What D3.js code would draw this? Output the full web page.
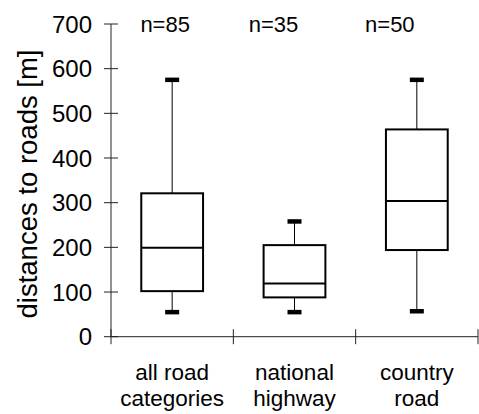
<!DOCTYPE html>
<html>
<head>
<meta charset="utf-8">
<script src="https://cdn.jsdelivr.net/npm/d3@7"></script>
<style>
  html, body { margin: 0; padding: 0; background: #fff; }
  svg { display: block; font-family: "Liberation Sans", Arial, sans-serif; }
</style>
</head>
<body>
<svg id="chart" width="479" height="414"></svg>
<script>
// Road categories and their distance summaries (metres)
const categories = ["all road categories", "national highway", "country road"];
const categoryLines = [["all road", "categories"], ["national", "highway"], ["country", "road"]];
const sampleSizes = [85, 35, 50];
const whiskerLow = [55, 55, 57];
const quartile1 = [102, 88, 194];
const medians = [199, 119, 304];
const quartile3 = [321, 205, 464];
const whiskerHigh = [575, 258, 575];
const yTicks = [0, 100, 200, 300, 400, 500, 600, 700];

const svg = d3.select("#chart");
const plotLeft = 111, plotRight = 478, plotTop = 24, plotBottom = 336.7;

const x = d3.scaleBand().domain(categories).range([plotLeft, plotRight]).paddingInner(0).paddingOuter(0);
const y = d3.scaleLinear().domain([0, 700]).range([plotBottom, plotTop]);

// Y axis: line, ticks that cross it, labels
const yAxis = svg.append("g");
yAxis.append("line")
  .attr("x1", plotLeft).attr("x2", plotLeft).attr("y1", y(700)).attr("y2", y(0))
  .attr("stroke", "#222").attr("stroke-width", 1);
yAxis.selectAll("line.tick").data(yTicks).join("line")
  .attr("class", "tick")
  .attr("x1", plotLeft - 7).attr("x2", plotLeft + 7)
  .attr("y1", d => y(d)).attr("y2", d => y(d))
  .attr("stroke", "#222").attr("stroke-width", 1);
yAxis.selectAll("text").data(yTicks).join("text")
  .attr("x", 92).attr("y", d => y(d))
  .attr("text-anchor", "end").attr("dominant-baseline", "central")
  .attr("font-size", 24).attr("fill", "#000")
  .text(d => d);

// Y axis title
svg.append("text")
  .attr("transform", `translate(36.5,184) rotate(-90)`)
  .attr("text-anchor", "middle")
  .attr("font-size", 27.5).attr("fill", "#000")
  .text("distances to roads [m]");

// X axis: line with tick marks at band edges
const xEdges = categories.map(c => x(c)).concat([plotRight]);
svg.append("line")
  .attr("x1", plotLeft).attr("x2", plotRight).attr("y1", y(0)).attr("y2", y(0))
  .attr("stroke", "#222").attr("stroke-width", 1);
svg.selectAll("line.xtick").data(xEdges).join("line")
  .attr("class", "xtick")
  .attr("x1", d => d).attr("x2", d => d)
  .attr("y1", y(0) - 7.5).attr("y2", y(0) + 7.5)
  .attr("stroke", "#222").attr("stroke-width", 1);

// Category labels (two lines each)
const catLabels = svg.selectAll("text.cat").data(categories).join("text")
  .attr("class", "cat")
  .attr("text-anchor", "middle")
  .attr("font-size", 22.5).attr("fill", "#000");
catLabels.each(function(c, i) {
  const t = d3.select(this);
  const cx = x(c) + x.bandwidth() / 2;
  categoryLines[i].forEach((line, j) => {
    t.append("tspan").attr("x", cx).attr("y", 380 + j * 26).text(line);
  });
});

// Box plots
const rows = categories.map((c, i) => ({
  c, lo: whiskerLow[i], q1: quartile1[i], med: medians[i], q3: quartile3[i], hi: whiskerHigh[i]
}));
const boxW = x.bandwidth() * 0.505;
const capW = 14;
const boxes = svg.selectAll("g.box").data(rows).join("g").attr("class", "box")
  .attr("transform", d => `translate(${x(d.c) + x.bandwidth() / 2},0)`);

boxes.append("line")
  .attr("x1", 0).attr("x2", 0).attr("y1", d => y(d.hi)).attr("y2", d => y(d.q3))
  .attr("stroke", "#000").attr("stroke-width", 1);
boxes.append("line")
  .attr("x1", 0).attr("x2", 0).attr("y1", d => y(d.q1)).attr("y2", d => y(d.lo))
  .attr("stroke", "#000").attr("stroke-width", 1);
boxes.append("line")
  .attr("x1", -capW / 2).attr("x2", capW / 2).attr("y1", d => y(d.hi)).attr("y2", d => y(d.hi))
  .attr("stroke", "#000").attr("stroke-width", 4.5);
boxes.append("line")
  .attr("x1", -capW / 2).attr("x2", capW / 2).attr("y1", d => y(d.lo)).attr("y2", d => y(d.lo))
  .attr("stroke", "#000").attr("stroke-width", 4.5);
boxes.append("rect")
  .attr("x", -boxW / 2).attr("width", boxW)
  .attr("y", d => y(d.q3)).attr("height", d => y(d.q1) - y(d.q3))
  .attr("fill", "#fff").attr("stroke", "#000").attr("stroke-width", 2);
boxes.append("line")
  .attr("x1", -boxW / 2).attr("x2", boxW / 2).attr("y1", d => y(d.med)).attr("y2", d => y(d.med))
  .attr("stroke", "#000").attr("stroke-width", 2);

// Sample size labels above the plot
const nLabelShift = [-7, -21, -27];
svg.selectAll("text.n").data(sampleSizes).join("text")
  .attr("class", "n")
  .attr("x", (d, i) => x(categories[i]) + x.bandwidth() / 2 + nLabelShift[i])
  .attr("y", 32.3)
  .attr("text-anchor", "middle")
  .attr("font-size", 22).attr("fill", "#000")
  .text(d => `n=${d}`);
</script>
</body>
</html>
